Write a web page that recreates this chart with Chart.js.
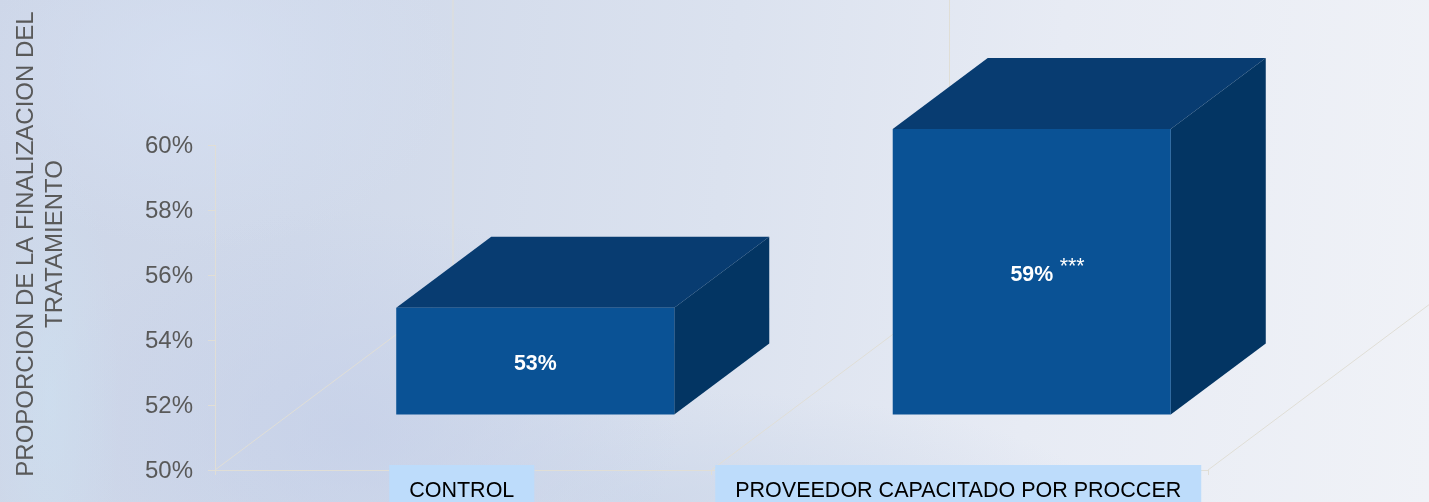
<!DOCTYPE html>
<html lang="es">
<head>
    <meta charset="UTF-8">
    <title>Proporcion de la finalizacion del tratamiento</title>
    <script src="https://cdn.jsdelivr.net/npm/chart.js"></script>
    <style>
        html, body {
            margin: 0;
            padding: 0;
            width: 1429px;
            height: 502px;
            overflow: hidden;
        }
        body {
            background:
                radial-gradient(ellipse 70px 260px at 50px 400px, rgba(205, 224, 240, 0.65), rgba(205, 224, 240, 0)),
                radial-gradient(ellipse 260px 180px at 200px 70px, rgba(214, 224, 242, 0.8), rgba(214, 224, 242, 0)),
                radial-gradient(ellipse 330px 220px at 350px 430px, rgba(196, 207, 232, 0.7), rgba(196, 207, 232, 0)),
                radial-gradient(ellipse 450px 110px at 650px 500px, rgba(203, 214, 233, 0.7), rgba(203, 214, 233, 0)),
                linear-gradient(96deg, #cdd6e8 0%, #d0d9ea 22%, #dbe2ef 50%, #e7ebf4 72%, #f0f2f7 100%);
        }
        #wrap {
            position: relative;
            width: 1429px;
            height: 502px;
        }
    </style>
</head>
<body>
    <div id="wrap"><canvas id="finishChart"></canvas></div>

    <script>
        const categories = ['CONTROL', 'PROVEEDOR CAPACITADO POR PROCCER'];
        const completion = [53.3, 58.8];
        const valueLabels = ['53%', '59%'];
        const significance = ['', '***'];
        const yTitleLines = ['PROPORCION DE LA FINALIZACION DEL', 'TRATAMIENTO'];

        const FONT = '"Liberation Sans", Arial, sans-serif';
        const LINE_COLOR = '#e0ded6';
        const LABEL_BOX = '#bddcfb';
        const LABEL_SIZE = 21.5;
        const LABEL_PAD_X = 20;
        const LABEL_SHIFT = -1.5;

        // fake 3D: floor depth of the whole plot, and where the box sits in it
        const FLOOR_DX = 238, FLOOR_DY = 178;
        const SHIFT_X = 72, SHIFT_Y = 55;
        const BOX_DX = 95, BOX_DY = 71;

        const floorPlugin = {
            id: 'floor',
            beforeDatasetsDraw(chart) {
                const { ctx, chartArea } = chart;
                const y = chartArea.bottom;
                const xs = chart.scales.x;
                const mid = (xs.getPixelForValue(0) + xs.getPixelForValue(1)) / 2;
                ctx.save();
                ctx.strokeStyle = LINE_COLOR;
                ctx.lineWidth = 1;
                [chartArea.left, mid, chartArea.right].forEach((x, i) => {
                    ctx.beginPath();
                    ctx.moveTo(x, y);
                    ctx.lineTo(x + FLOOR_DX, y - FLOOR_DY);
                    if (i < 2) ctx.lineTo(x + FLOOR_DX, 0);
                    ctx.stroke();
                });
                // the scale clips its label backdrop at the axis, so add the bit above it
                ctx.fillStyle = LABEL_BOX;
                ctx.font = LABEL_SIZE + 'px ' + FONT;
                categories.forEach((name, i) => {
                    const w = ctx.measureText(name).width + LABEL_PAD_X * 2;
                    ctx.fillRect(xs.getPixelForValue(i) + LABEL_SHIFT - w / 2, y - 5, w, 6);
                });
                ctx.restore();
            }
        };

        const boxPlugin = {
            id: 'box',
            beforeDatasetDraw(chart, args) {
                const { ctx } = chart;
                ctx.save();
                ctx.translate(SHIFT_X, -SHIFT_Y);
                args.meta.data.forEach(bar => {
                    const p = bar.getProps(['x', 'y', 'base', 'width'], true);
                    const l = p.x - p.width / 2, r = p.x + p.width / 2;
                    ctx.fillStyle = '#083c71';
                    ctx.beginPath();
                    ctx.moveTo(l, p.y);
                    ctx.lineTo(l + BOX_DX, p.y - BOX_DY);
                    ctx.lineTo(r + BOX_DX, p.y - BOX_DY);
                    ctx.lineTo(r, p.y);
                    ctx.closePath();
                    ctx.fill();
                    ctx.fillStyle = '#033563';
                    ctx.beginPath();
                    ctx.moveTo(r, p.y);
                    ctx.lineTo(r + BOX_DX, p.y - BOX_DY);
                    ctx.lineTo(r + BOX_DX, p.base - BOX_DY);
                    ctx.lineTo(r, p.base);
                    ctx.closePath();
                    ctx.fill();
                });
            },
            afterDatasetDraw(chart) {
                chart.ctx.restore();
            },
            afterDatasetsDraw(chart) {
                const { ctx } = chart;
                const bars = chart.getDatasetMeta(0).data;
                ctx.save();
                ctx.fillStyle = '#ffffff';
                ctx.textBaseline = 'alphabetic';
                bars.forEach((bar, i) => {
                    const cx = bar.x + SHIFT_X;
                    const cy = (bar.y + bar.base) / 2 - SHIFT_Y;
                    ctx.textAlign = 'center';
                    ctx.font = 'bold 21.33px ' + FONT;
                    ctx.fillText(valueLabels[i], cx, cy + 9);
                    if (significance[i]) {
                        ctx.textAlign = 'left';
                        ctx.font = '21.33px ' + FONT;
                        ctx.fillText(significance[i], cx + 28, cy + 1);
                    }
                });
                ctx.restore();
            }
        };

        const yTitlePlugin = {
            id: 'yTitle',
            afterDraw(chart) {
                const { ctx } = chart;
                ctx.save();
                ctx.fillStyle = '#595959';
                ctx.font = '24px ' + FONT;
                ctx.textAlign = 'center';
                ctx.textBaseline = 'alphabetic';
                yTitleLines.forEach((line, i) => {
                    ctx.save();
                    ctx.translate(33 + i * 29, 244);
                    ctx.rotate(-Math.PI / 2);
                    ctx.fillText(line, 0, 0);
                    ctx.restore();
                });
                ctx.restore();
            }
        };

        new Chart(document.getElementById('finishChart'), {
            type: 'bar',
            data: {
                labels: categories,
                datasets: [{
                    data: completion,
                    base: 50,
                    backgroundColor: '#0a5295',
                    borderWidth: 0,
                    barPercentage: 1,
                    categoryPercentage: 0.56,
                    clip: false
                }]
            },
            plugins: [floorPlugin, boxPlugin, yTitlePlugin],
            options: {
                responsive: true,
                maintainAspectRatio: false,
                animation: false,
                layout: { padding: { top: 145, right: 221, bottom: 0, left: 0 } },
                plugins: { legend: { display: false }, tooltip: { enabled: false } },
                scales: {
                    x: {
                        afterFit(scale) { scale.height = 32; },
                        border: { color: LINE_COLOR },
                        grid: { drawOnChartArea: false, color: LINE_COLOR, tickLength: 5 },
                        ticks: {
                            autoSkip: false,
                            maxRotation: 0,
                            color: '#000000',
                            padding: 3,
                            labelOffset: LABEL_SHIFT,
                            font: { family: FONT, size: LABEL_SIZE },
                            showLabelBackdrop: true,
                            backdropColor: LABEL_BOX,
                            backdropPadding: { top: 15, bottom: 15, left: LABEL_PAD_X, right: LABEL_PAD_X }
                        }
                    },
                    y: {
                        min: 50,
                        max: 60,
                        afterFit(scale) { scale.width = 215; },
                        border: { color: LINE_COLOR },
                        grid: { drawOnChartArea: false, color: LINE_COLOR, tickLength: 7 },
                        ticks: {
                            stepSize: 2,
                            color: '#595959',
                            padding: 15,
                            labelOffset: 1.5,
                            font: { family: FONT, size: 24 },
                            callback: value => value + '%'
                        }
                    }
                }
            }
        });
    </script>
</body>
</html>
